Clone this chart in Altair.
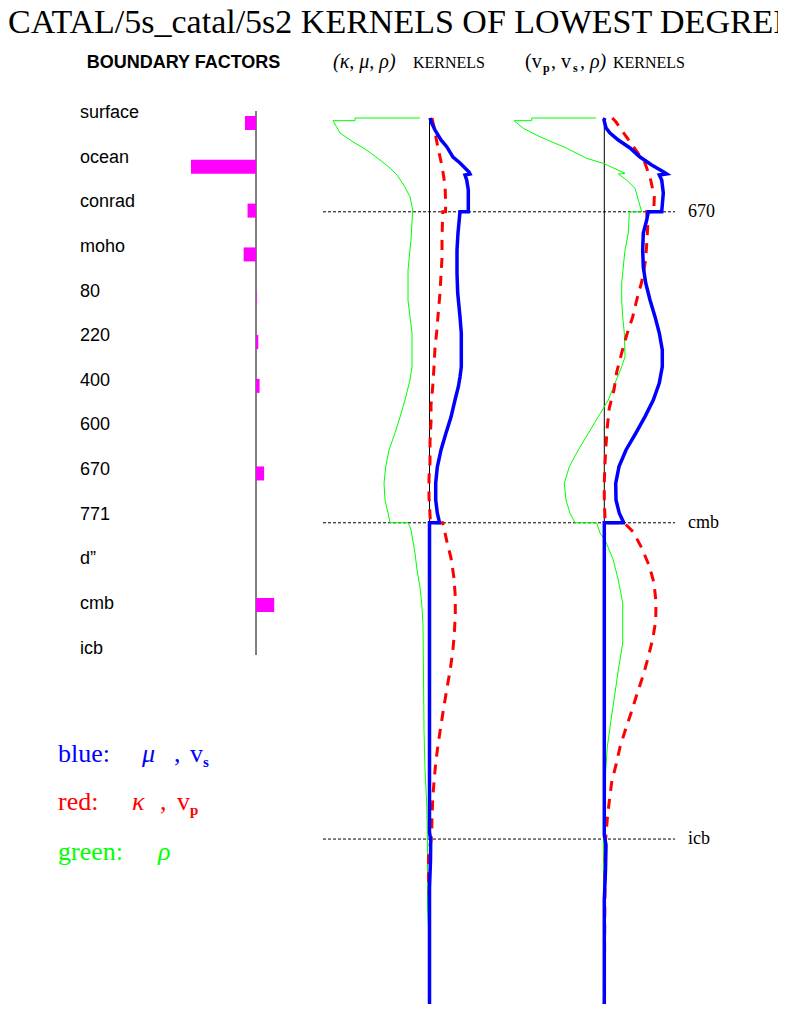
import altair as alt
import pandas as pd

# ---------------- data ----------------
TITLE = "CATAL/5s_catal/5s2 KERNELS OF LOWEST DEGREE"

boundaries = ["surface", "ocean", "conrad", "moho", "80", "220", "400", "600",
              "670", "771", "d\u201d", "cmb", "icb"]
boundary_factor = [-0.17, -1.0, -0.13, -0.19, 0.008, 0.035, 0.055, 0.0,
                   0.125, 0.0, 0.0, 0.28, 0.0]

disc_depth = [670, 2891, 5150]
disc_label = ["670", "cmb", "icb"]

# (depth km, kernel value) -- panel 1: (kappa, mu, rho)
rho1 = [(0, -0.095), (0, -0.745), (19, -0.745), (19, -0.965), (107, -0.895),
        (171, -0.765), (221, -0.645), (300, -0.495), (357, -0.395), (407, -0.325),
        (493, -0.245), (564, -0.195), (657, -0.168), (871, -0.185), (1086, -0.215),
        (1300, -0.215), (1421, -0.195), (1536, -0.175), (1778, -0.175), (1871, -0.195),
        (2014, -0.245), (2136, -0.295), (2250, -0.345), (2371, -0.405), (2493, -0.438),
        (2607, -0.455), (2728, -0.445), (2821, -0.415), (2891, -0.395), (2891, -0.215),
        (2921, -0.195), (2943, -0.185), (3107, -0.145), (3228, -0.125), (3350, -0.095),
        (3493, -0.075), (3621, -0.065), (4371, -0.055), (4657, -0.045), (4892, -0.028),
        (5157, -0.02), (5636, -0.02), (5942, 0.0), (6371, 0.0)]
kappa1 = [(0, 0.025), (64, 0.045), (214, 0.085), (343, 0.125), (479, 0.155),
          (614, 0.162), (670, 0.16), (670, 0.132), (871, 0.125), (1000, 0.125),
          (1121, 0.115), (1250, 0.105), (1371, 0.09), (1528, 0.072), (1643, 0.055),
          (1778, 0.045), (1921, 0.032), (2050, 0.015), (2171, 0.015), (2314, 0.005),
          (2457, 0.005), (2571, -0.005), (2707, -0.005), (2836, 0.005), (2891, 0.01),
          (2891, 0.132), (3028, 0.175), (3143, 0.215), (3286, 0.245), (3421, 0.258),
          (3550, 0.258), (3686, 0.248), (3814, 0.232), (3950, 0.205), (4071, 0.175),
          (4214, 0.142), (4350, 0.112), (4478, 0.085), (4607, 0.062), (4743, 0.045),
          (4871, 0.032), (5000, 0.025), (5121, 0.022), (5157, 0.015), (5264, -0.01),
          (5443, -0.01), (5585, 0.0), (6371, 0.0)]
mu1 = [(0, 0.005), (36, 0.022), (86, 0.055), (157, 0.115), (205, 0.172),
       (279, 0.235), (321, 0.305), (386, 0.395), (400, 0.405), (407, 0.355),
       (443, 0.372), (514, 0.388), (670, 0.388), (670, 0.305), (821, 0.285),
       (943, 0.275), (1107, 0.275), (1250, 0.282), (1421, 0.305), (1536, 0.318),
       (1778, 0.318), (1850, 0.305), (1921, 0.288), (2014, 0.255), (2136, 0.215),
       (2250, 0.165), (2371, 0.115), (2493, 0.078), (2607, 0.062), (2728, 0.062),
       (2821, 0.078), (2883, 0.098), (2891, 0.098), (2891, 0.0), (5100, 0.0),
       (5157, 0.012), (5300, 0.01), (5500, 0.0), (6371, 0.0)]

# panel 2: (vp, vs, rho)
rho2 = [(0, -0.083), (0, -0.726), (19, -0.726), (19, -0.903), (74, -0.81),
        (134, -0.643), (216, -0.376), (288, -0.176), (324, -0.01), (395, 0.207),
        (400, 0.14), (443, 0.224), (502, 0.307), (586, 0.34), (670, 0.374),
        (670, 0.25), (821, 0.24), (943, 0.207), (1178, 0.174), (1300, 0.174),
        (1419, 0.184), (1536, 0.2), (1705, 0.207), (1776, 0.174), (1893, 0.107),
        (2014, 0.04), (2133, -0.06), (2252, -0.16), (2371, -0.26), (2490, -0.35),
        (2609, -0.40), (2728, -0.383), (2823, -0.343), (2891, -0.293), (2891, -0.076),
        (2964, -0.043), (3014, 0.007), (3157, 0.09), (3300, 0.14), (3464, 0.184),
        (3750, 0.184), (3943, 0.14), (4107, 0.107), (4300, 0.067), (4493, 0.03),
        (4657, 0.014), (5157, -0.008), (5585, -0.008), (6371, 0.0)]
vp2 = [(0, 0.08), (29, 0.117), (114, 0.2), (214, 0.3), (321, 0.407),
       (443, 0.464), (564, 0.5), (621, 0.497), (670, 0.492), (670, 0.424),
       (779, 0.434), (907, 0.424), (1028, 0.41), (1171, 0.374), (1300, 0.324),
       (1421, 0.284), (1550, 0.224), (1678, 0.174), (1814, 0.124), (1943, 0.097),
       (2071, 0.05), (2207, 0.03), (2336, 0.017), (2464, 0.007), (2600, 0.0),
       (2728, 0.0), (2857, 0.007), (2891, 0.007), (2891, 0.197), (2957, 0.29),
       (3071, 0.374), (3200, 0.45), (3321, 0.497), (3457, 0.517), (3593, 0.514),
       (3721, 0.484), (3850, 0.44), (3978, 0.39), (4107, 0.33), (4236, 0.274),
       (4357, 0.217), (4493, 0.157), (4621, 0.117), (4743, 0.074), (4878, 0.05),
       (5007, 0.03), (5121, 0.017), (5157, 0.012), (5371, 0.007), (6371, 0.0)]
vs2 = [(0, 0.007), (14, -0.003), (71, 0.017), (107, 0.057), (157, 0.14),
       (214, 0.257), (279, 0.357), (336, 0.474), (384, 0.59), (400, 0.624),
       (407, 0.55), (443, 0.574), (536, 0.59), (670, 0.574), (670, 0.44),
       (729, 0.424), (821, 0.39), (943, 0.384), (1064, 0.39), (1178, 0.414),
       (1300, 0.457), (1419, 0.507), (1536, 0.55), (1657, 0.58), (1776, 0.58),
       (1893, 0.55), (2014, 0.49), (2133, 0.407), (2252, 0.314), (2371, 0.217),
       (2490, 0.147), (2609, 0.114), (2728, 0.117), (2823, 0.15), (2883, 0.19),
       (2891, 0.19), (2891, 0.0), (5121, 0.0), (5193, 0.017), (5371, 0.012),
       (5585, 0.0), (6371, 0.0)]

# ---------------- styling / layout ----------------
SERIF = "Liberation Serif"
SANS = "Liberation Sans"
BLUE, RED, GREEN, MAGENTA = "#0000ff", "#ff0000", "#00ff00", "#ff00ff"
W, H = 770, 996
Z1, Z2 = 421.5, 596.3          # zero positions of the two kernel panels
KUNIT = 100                     # pixels per kernel unit

ky = alt.Scale(domain=[0, 6371], range=[110, 1002], nice=False, zero=False)


def kx(z):
    return alt.Scale(domain=[-1, 1], range=[z - KUNIT, z + KUNIT], nice=False, zero=False)


by = alt.Scale(domain=[0, 12], range=[110, 645.7], nice=False, zero=False)
bx = alt.Scale(domain=[-1, 1], range=[183, 313], nice=False, zero=False)


def curve_df(pairs):
    return pd.DataFrame({"depth": [p[0] for p in pairs],
                         "value": [p[1] for p in pairs],
                         "i": list(range(len(pairs)))})


def kline(pairs, z, color, width, dash=None):
    kw = dict(color=color, strokeWidth=width, strokeCap="butt", strokeJoin="miter")
    if dash:
        kw["strokeDash"] = dash
    return alt.Chart(curve_df(pairs)).mark_line(**kw).encode(
        x=alt.X("value:Q", scale=kx(z), axis=None),
        y=alt.Y("depth:Q", scale=ky, axis=None),
        order="i:Q",
    )


def zero_rule(z):
    df = pd.DataFrame({"v": [0.0], "d0": [0], "d1": [6371]})
    return alt.Chart(df).mark_rule(color="black", strokeWidth=1).encode(
        x=alt.X("v:Q", scale=kx(z), axis=None),
        y=alt.Y("d0:Q", scale=ky, axis=None),
        y2="d1:Q",
    )


DUMMY = pd.DataFrame({"k": [0]})


def note(text, x, y, size, font=SERIF, color="black", align="left",
         baseline="alphabetic", style="normal", weight="normal"):
    return alt.Chart(DUMMY).mark_text(
        font=font, fontSize=size, color=color, align=align, baseline=baseline,
        fontStyle=style, fontWeight=weight,
    ).encode(x=alt.value(x), y=alt.value(y), text=alt.value(text))


# boundary factor panel
bdf = pd.DataFrame({"name": boundaries, "idx": list(range(len(boundaries))),
                    "val": boundary_factor, "zero": [0.0] * len(boundaries)})
bars = alt.Chart(bdf).mark_bar(orient="horizontal", size=14, color=MAGENTA).encode(
    x=alt.X("val:Q", scale=bx, axis=None),
    x2="zero:Q",
    y=alt.Y("idx:Q", scale=by, axis=None),
)
blabels = alt.Chart(bdf).mark_text(font=SANS, fontSize=18, align="left",
                                   baseline="alphabetic", color="black").encode(
    x=alt.value(72),
    y=alt.Y("idx:Q", scale=by, axis=None),
    text="name:N",
)
baxis = alt.Chart(pd.DataFrame({"v": [0.0], "a": [-0.157], "b": [12.03]})).mark_rule(
    color="black", strokeWidth=1).encode(
    x=alt.X("v:Q", scale=bx, axis=None),
    y=alt.Y("a:Q", scale=by, axis=None),
    y2="b:Q",
)

# discontinuities
ddf = pd.DataFrame({"depth": disc_depth, "label": disc_label})
drules = alt.Chart(ddf).mark_rule(color="black", strokeWidth=1, strokeDash=[3, 2]).encode(
    y=alt.Y("depth:Q", scale=ky, axis=None),
    x=alt.value(315), x2=alt.value(667),
)
dlabels = alt.Chart(ddf).mark_text(font=SERIF, fontSize=18, align="left",
                                   baseline="middle", color="black").encode(
    y=alt.Y("depth:Q", scale=ky, axis=None),
    x=alt.value(680),
    text="label:N",
)

texts = [
    note(TITLE, 0, 25, 34),
    note("BOUNDARY FACTORS", 175.5, 60, 18, font=SANS, align="center", weight="bold"),
    # panel 1 header
    note("(\u03ba, \u03bc, \u03c1)", 325, 60, 20, style="italic"),
    note("KERNELS", 405, 60, 16),
    # panel 2 header
    note("(v", 517, 60, 20),
    note("p", 535, 64, 12, weight="bold"),
    note(", v", 543, 60, 20),
    note("s", 565, 64, 12, weight="bold"),
    note(", \u03c1)", 572, 60, 20, style="italic"),
    note("KERNELS", 605, 60, 16),
    # legend
    note("blue:", 50, 754, 26, color=BLUE),
    note("\u03bc", 134, 754, 26, color=BLUE, style="italic"),
    note(",", 166, 754, 26, color=BLUE),
    note("v", 182, 754, 26, color=BLUE),
    note("s", 195, 759, 15, color=BLUE, weight="bold"),
    note("red:", 50, 802, 26, color=RED),
    note("\u03ba", 124, 802, 26, color=RED, style="italic"),
    note(",", 152, 802, 26, color=RED),
    note("v", 169, 802, 26, color=RED),
    note("p", 182, 807, 15, color=RED, weight="bold"),
    note("green:", 50, 852, 26, color=GREEN),
    note("\u03c1", 150, 852, 26, color=GREEN, style="italic"),
]

layers = [
    baxis, bars, blabels,
    zero_rule(Z1), zero_rule(Z2),
    drules, dlabels,
    kline(rho1, Z1, GREEN, 1), kline(kappa1, Z1, RED, 3, [10, 8]), kline(mu1, Z1, BLUE, 3.5),
    kline(rho2, Z2, GREEN, 1), kline(vp2, Z2, RED, 3, [10, 8]), kline(vs2, Z2, BLUE, 3.5),
] + texts

chart = alt.layer(*layers).resolve_scale(
    x="independent", y="independent"
).properties(
    width=W, height=H, padding=0,
    autosize=alt.AutoSizeParams(type="none"),
).configure_view(stroke=None)

chart.save("out.html", embed_options={"renderer": "svg", "actions": False})
